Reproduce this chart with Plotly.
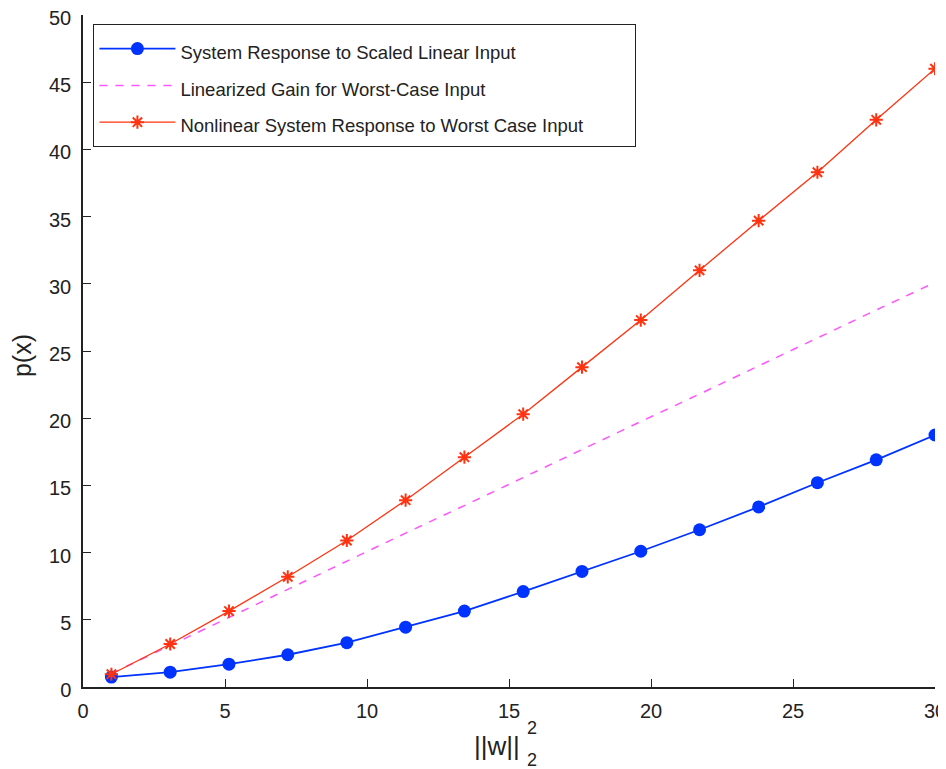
import plotly.graph_objects as go

x_vals = [1.0, 3.07, 5.14, 7.21, 9.29, 11.36, 13.43, 15.5, 17.57, 19.64, 21.71, 23.79, 25.86, 27.93, 30.0]
blue_vals = [0.74, 1.1, 1.7, 2.4, 3.3, 4.45, 5.65, 7.1, 8.6, 10.1, 11.7, 13.4, 15.2, 16.9, 18.75]
pink_vals = [1.0, 3.1, 5.2, 7.3, 9.4, 11.45, 13.5, 15.6, 17.7, 19.75, 21.8, 23.9, 25.95, 28.05, 30.1]
red_vals = [0.95, 3.2, 5.65, 8.2, 10.9, 13.9, 17.1, 20.3, 23.8, 27.3, 31.0, 34.7, 38.3, 42.2, 46.0]

names = ["System Response to Scaled Linear Input",
         "Linearized Gain for Worst-Case Input",
         "Nonlinear System Response to Worst Case Input"]

x_ticks = [0, 5, 10, 15, 20, 25, 30]
y_ticks = [0, 5, 10, 15, 20, 25, 30, 35, 40, 45, 50]

FONT = "Liberation Sans, Arial, sans-serif"
INK = "#222"


def legend_label(s, pad=0):
    return '<span style="font-size:18.5px">' + s + "&nbsp;" * pad + '</span>'


fig = go.Figure()
fig.add_trace(go.Scatter(
    x=x_vals, y=blue_vals, name=legend_label(names[0]), mode="lines+markers",
    line=dict(color="#0033ff", width=1.8),
    marker=dict(symbol="circle", size=13, color="#0033ff"),
))
fig.add_trace(go.Scatter(
    x=x_vals, y=pink_vals, name=legend_label(names[1]), mode="lines",
    line=dict(color="#ff55ff", width=1.5, dash="8px,8px"),
))
fig.add_trace(go.Scatter(
    x=x_vals, y=red_vals, name=legend_label(names[2], 9), mode="lines+markers",
    line=dict(color="#ff3311", width=1.3),
    marker=dict(symbol="asterisk-open", size=11, color="#ff3311",
                line=dict(color="#ff3311", width=2)),
))

# page body adds an 8px offset, so the figure is 8px smaller and margins shifted
fig.update_layout(
    width=938, height=761,
    margin=dict(l=75, r=11, t=7, b=82),
    paper_bgcolor="white", plot_bgcolor="white",
    font=dict(family=FONT, size=20, color=INK),
    showlegend=True,
    legend=dict(
        x=0.012, y=0.9866, xanchor="left", yanchor="top",
        bgcolor="white", bordercolor=INK, borderwidth=1.2,
        font=dict(family=FONT, size=26, color=INK),
        itemwidth=76, tracegroupgap=0,
    ),
    xaxis=dict(
        range=[0, 30], tickvals=x_ticks, ticks="inside", ticklen=8,
        tickcolor=INK, linecolor=INK, linewidth=1.5, showline=True,
        showgrid=False, zeroline=False, mirror=False, automargin=False,
        ticklabelstandoff=5, ticklabeloverflow="allow",
    ),
    yaxis=dict(
        range=[0, 50], tickvals=y_ticks, ticks="inside", ticklen=8,
        tickcolor=INK, linecolor=INK, linewidth=1.5, showline=True,
        showgrid=False, zeroline=False, mirror=False, automargin=False,
        ticklabelstandoff=6, ticklabeloverflow="allow", ticklabelshift=3,
    ),
)

fig.add_annotation(text="p(x)", xref="paper", yref="paper", x=-0.0716, y=0.494,
                   xanchor="center", yanchor="middle",
                   textangle=-90, showarrow=False,
                   font=dict(family=FONT, size=25, color=INK))
fig.add_annotation(text="||w||", xref="paper", yref="paper", x=0.486, y=-0.088,
                   xanchor="center", yanchor="middle",
                   showarrow=False, font=dict(family=FONT, size=26, color=INK))
fig.add_annotation(text="2", xref="paper", yref="paper", x=0.527, y=-0.061,
                   xanchor="center", yanchor="middle",
                   showarrow=False, font=dict(family=FONT, size=18, color=INK))
fig.add_annotation(text="2", xref="paper", yref="paper", x=0.527, y=-0.109,
                   xanchor="center", yanchor="middle",
                   showarrow=False, font=dict(family=FONT, size=18, color=INK))

fig.write_html("out.html")
